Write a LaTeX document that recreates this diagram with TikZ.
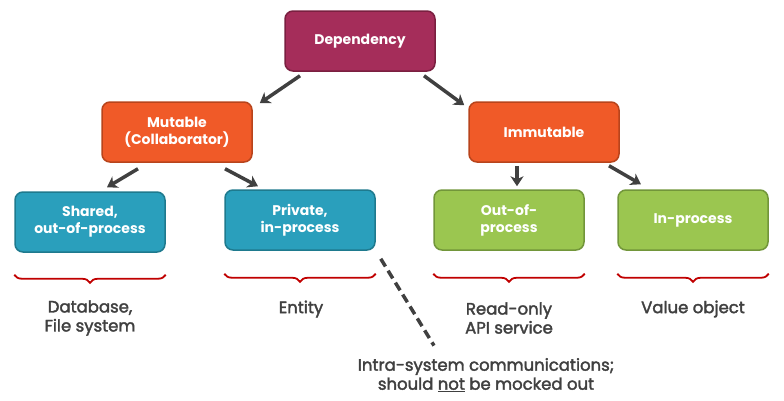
\documentclass[tikz,border=0pt]{standalone}
\usepackage{fontspec}
\setmainfont{Poppins}
\newfontfamily\labfont[FakeBold=2.2]{Poppins}
\usetikzlibrary{arrows.meta,calc,decorations.pathreplacing}
\definecolor{depc}{HTML}{A52D5A}
\definecolor{depb}{HTML}{7A1F40}
\definecolor{orc}{HTML}{F05A28}
\definecolor{orb}{HTML}{B8441C}
\definecolor{tec}{HTML}{2A9FBC}
\definecolor{teb}{HTML}{1E7A8E}
\definecolor{grc}{HTML}{9BC650}
\definecolor{grb}{HTML}{72963A}
\definecolor{txt}{HTML}{404040}
\definecolor{brc}{HTML}{C00000}
\begin{document}
\begin{tikzpicture}[x=1pt,y=-1pt,
  box/.style={rounded corners=8pt,line width=1.5pt,minimum width=150pt,minimum height=60pt,
    text=white,font=\fontsize{14}{17}\selectfont\bfseries,align=center,inner sep=0pt},
  arr/.style={line width=3.5pt,draw=txt,-{Stealth[length=10pt,width=13pt,inset=3pt]}},
  lab/.style={text=txt,font=\labfont\fontsize{16.5}{19}\selectfont,align=center},
  brc/.style={draw=brc,line width=1.8pt,decorate,decoration={brace,mirror,amplitude=8pt}}]
\useasboundingbox (0,0) rectangle (784,400);
\node[box,fill=depc,draw=depb] (dep) at (360,41) {Dependency};
\node[box,fill=orc,draw=orb] (mut) at (177,132) {Mutable\\(Collaborator)};
\node[box,fill=orc,draw=orb] (imm) at (544,132) {Immutable};
\node[box,fill=tec,draw=teb] (sh) at (90,222) {Shared,\\out-of-process};
\node[box,fill=tec,draw=teb] (pr) at (300,220) {Private,\\in-process};
\node[box,fill=grc,draw=grb] (op) at (509,220) {Out-of-\\process};
\node[box,fill=grc,draw=grb] (ip) at (693,220) {In-process};
\draw[arr] ($(dep.south)+(-60,4)$) -- ($(mut.north east)+(7,2)$);
\draw[arr] ($(dep.south)+(64,4)$) -- ($(imm.north west)+(-4,4)$);
\draw[arr] ($(mut.south)+(-39,6)$) -- ($(sh.north)+(17,-4)$);
\draw[arr] ($(mut.south)+(48,6)$) -- ($(pr.north)+(-42,-3)$);
\draw[arr] ($(imm.south)+(-27,3)$) -- ($(op.north)+(8,-3)$);
\draw[arr] ($(imm.south)+(65,3)$) -- ($(ip.north)+(-52,-5)$);
\draw[brc] ($(sh.south west)+(0,22)$) -- ($(sh.south east)+(0,22)$);
\draw[brc] ($(pr.south west)+(0,23)$) -- ($(pr.south east)+(0,23)$);
\draw[brc] ($(op.south west)+(0,23)$) -- ($(op.south east)+(0,23)$);
\draw[brc] ($(ip.south west)+(0,23)$) -- ($(ip.south east)+(0,23)$);
\node[lab] (l1) at (90,318) {Database,\\File system};
\node[lab] (l2) at (301,309) {Entity};
\node[lab] (l3) at (509,318) {Read-only\\API service};
\node[lab] (l4) at (693,309) {Value object};
\node[lab] (intra) at (486,375) {Intra-system communications;\\should \underline{not} be mocked out};
\coordinate (d1) at ($(pr.south east)+(5,8)$);
\coordinate (d2) at ($(intra.north)+(-52,-9)$);
\draw[draw=txt,line width=3.5pt,dash pattern=on 9pt off 5pt] (d1) -- (d2);
\end{tikzpicture}
\end{document}
